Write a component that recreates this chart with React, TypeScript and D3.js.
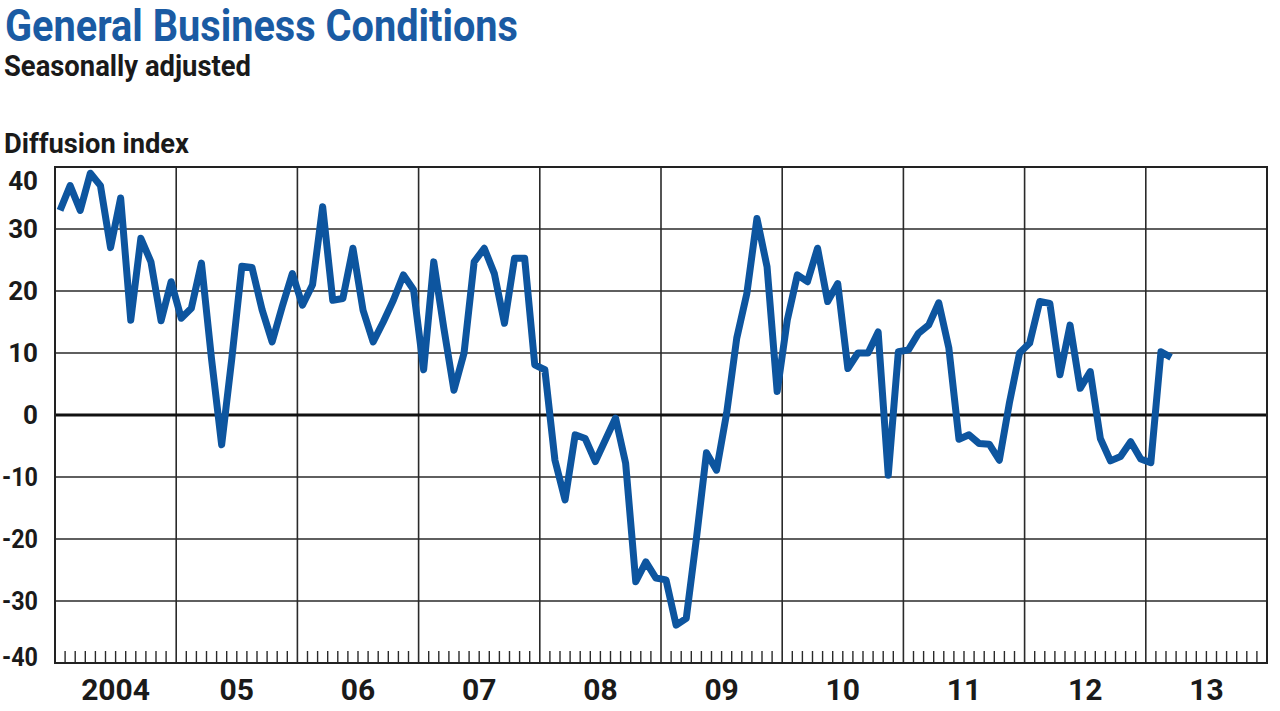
import React from "react";
import * as d3 from "d3";

const years = ["2004", "05", "06", "07", "08", "09", "10", "11", "12", "13"];
const yTicks = [40, 30, 20, 10, 0, -10, -20, -30, -40];

const v2004 = [33, 37, 33, 39, 37, 27, 35, 15.3, 28.5, 24.7, 15.2, 21.5];
const v2005 = [15.6, 17.2, 24.5, 9, -4.8, 9, 24, 23.8, 17, 11.8, 17.5, 22.8];
const v2006 = [17.7, 21, 33.6, 18.5, 18.8, 26.9, 16.9, 11.8, 15, 18.5, 22.6, 20.2];
const v2007 = [7.3, 24.7, 14, 4, 10, 24.7, 26.9, 22.8, 14.8, 25.3, 25.3, 8.1];
const v2008 = [7.3, -7.3, -13.7, -3.2, -3.8, -7.5, -4, -0.5, -7.8, -26.9, -23.7, -26.3];
const v2009 = [-26.6, -33.9, -32.8, -20, -6.1, -8.9, 0.3, 12.4, 19.6, 31.7, 23.9, 3.8];
const v2010 = [15.3, 22.6, 21.5, 26.9, 18.3, 21.2, 7.5, 10, 10, 13.4, -9.7, 10.2];
const v2011 = [10.5, 13.2, 14.5, 18.1, 10.8, -3.9, -3.2, -4.6, -4.7, -7.3, 2, 10];
const v2012 = [11.6, 18.3, 18, 6.5, 14.5, 4.3, 7, -3.8, -7.4, -6.7, -4.3, -7.1];
const v2013 = [-7.7, 10.2, 9.3];

const values = [
  ...v2004, ...v2005, ...v2006, ...v2007, ...v2008,
  ...v2009, ...v2010, ...v2011, ...v2012, ...v2013,
];

const W = 1280, H = 711;
const L = 55, R = 1267, T = 167, B = 663;
const BLUE = "#0d559f";
const FONT = "Roboto, 'Liberation Sans', Arial, sans-serif";

export default function App() {
  const x = d3.scaleLinear().domain([0, years.length * 12]).range([L, R]);
  const y = d3.scaleLinear().domain([-40, 40]).range([B, T]);
  const line = d3
    .line<number>()
    .x((_, i) => x(i + 0.5))
    .y((d) => y(d));

  const monthTicks = d3.range(1, years.length * 12).filter((m) => m % 12 !== 0);
  const yearLines = d3.range(1, years.length);

  return (
    <svg
      width={W}
      height={H}
      style={{ position: "absolute", left: 0, top: 0, background: "#fff" }}
      fontFamily={FONT}
    >
      <rect x={0} y={0} width={W} height={H} fill="#fff" />
      <text x={5} y={41} fontSize={44} fontWeight={700} fill="#1a5ba3"
        textLength={513} lengthAdjust="spacingAndGlyphs">General Business Conditions</text>
      <text x={4} y={76} fontSize={29} fontWeight={700} fill="#1a1a1a"
        textLength={247} lengthAdjust="spacingAndGlyphs">Seasonally adjusted</text>
      <text x={4} y={153} fontSize={28} fontWeight={700} fill="#1a1a1a"
        textLength={185} lengthAdjust="spacingAndGlyphs">Diffusion index</text>

      {/* horizontal gridlines */}
      {yTicks.filter((t) => t !== 0 && t !== 40 && t !== -40).map((t) => (
        <line key={"h" + t} x1={L} x2={R} y1={y(t)} y2={y(t)} stroke="#2a2a2a" strokeWidth={1.6} />
      ))}
      {/* year gridlines */}
      {yearLines.map((k) => (
        <line key={"v" + k} x1={x(k * 12)} x2={x(k * 12)} y1={T} y2={B} stroke="#2a2a2a" strokeWidth={1.6} />
      ))}
      {/* month ticks */}
      {monthTicks.map((m) => (
        <line key={"m" + m} x1={x(m)} x2={x(m)} y1={B} y2={B - 12} stroke="#2a2a2a" strokeWidth={1.4} />
      ))}
      {/* zero line */}
      <line x1={L} x2={R} y1={y(0)} y2={y(0)} stroke="#111" strokeWidth={3} />
      {/* frame */}
      <rect x={L} y={T} width={R - L} height={B - T} fill="none" stroke="#222" strokeWidth={2} />

      {/* y labels */}
      {yTicks.map((t) =>
        t < 0 ? (
          <text key={"yl" + t} x={2} y={Math.min(Math.max(y(t), T + 14), B - 6)}
            dominantBaseline="central" textAnchor="start" fontSize={26} fontWeight={700} fill="#1a1a1a"
            textLength={36} lengthAdjust="spacingAndGlyphs">
            {t}
          </text>
        ) : (
          <text key={"yl" + t} x={38} y={Math.min(Math.max(y(t), T + 14), B - 6)}
            dominantBaseline="central" textAnchor="end" fontSize={26} fontWeight={700} fill="#1a1a1a">
            {t}
          </text>
        )
      )}
      {/* x labels */}
      {years.map((yr, k) => (
        <text key={"xl" + yr} x={x(k * 12 + 6)} y={700} textAnchor="middle"
          fontSize={30} fontWeight={700} fill="#1a1a1a">
          {yr}
        </text>
      ))}

      <path d={line(values) || ""} fill="none" stroke={BLUE} strokeWidth={7}
        strokeLinejoin="round" strokeLinecap="butt" />
    </svg>
  );
}
